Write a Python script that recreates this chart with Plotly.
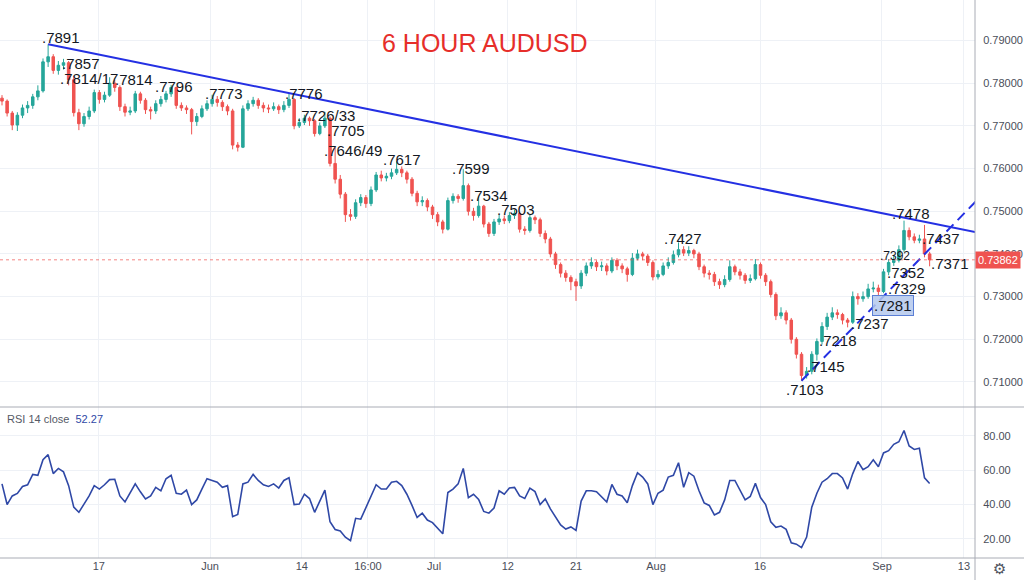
import plotly.graph_objects as go

# ---------------- data ----------------
first_open = 0.7765
closes = [
    0.7758, 0.7730, 0.7702, 0.7725, 0.7742, 0.7748, 0.7768, 0.7782, 0.7850, 0.7862,
    0.7830, 0.7842, 0.7848, 0.7808, 0.7731, 0.7705, 0.7722, 0.7735, 0.7778, 0.7762,
    0.7772, 0.7800, 0.7790, 0.7745, 0.7732, 0.7735, 0.7775, 0.7760, 0.7738, 0.7735,
    0.7752, 0.7762, 0.7775, 0.7790, 0.7748, 0.7742, 0.7738, 0.7710, 0.7722, 0.7740,
    0.7752, 0.7762, 0.7755, 0.7745, 0.7735, 0.7655, 0.7650, 0.7740, 0.7752, 0.7760,
    0.7748, 0.7742, 0.7740, 0.7745, 0.7738, 0.7748, 0.7762, 0.7700, 0.7708, 0.7718,
    0.7712, 0.7682, 0.7700, 0.7718, 0.7612, 0.7575, 0.7540, 0.7492, 0.7488, 0.7520,
    0.7532, 0.7518, 0.7550, 0.7585, 0.7578, 0.7582, 0.7590, 0.7598, 0.7590, 0.7575,
    0.7542, 0.7522, 0.7525, 0.7510, 0.7492, 0.7475, 0.7458, 0.7525, 0.7535, 0.7530,
    0.7560, 0.7500, 0.7490, 0.7512, 0.7470, 0.7448, 0.7475, 0.7482, 0.7478, 0.7490,
    0.7495, 0.7458, 0.7455, 0.7485, 0.7480, 0.7448, 0.7435, 0.7400, 0.7375, 0.7355,
    0.7345, 0.7335, 0.7325, 0.7355, 0.7372, 0.7380, 0.7370, 0.7372, 0.7360, 0.7385,
    0.7372, 0.7365, 0.7352, 0.7390, 0.7400, 0.7395, 0.7380, 0.7346, 0.7352, 0.7372,
    0.7380, 0.7398, 0.7410, 0.7402, 0.7408, 0.7400, 0.7370, 0.7355, 0.7352, 0.7335,
    0.7328, 0.7340, 0.7370, 0.7358, 0.7350, 0.7338, 0.7342, 0.7375, 0.7350, 0.7335,
    0.7305, 0.7255, 0.7262, 0.7245, 0.7200, 0.7165, 0.7115, 0.7125, 0.7165, 0.7195,
    0.7230, 0.7252, 0.7262, 0.7258, 0.7245, 0.7240, 0.7300, 0.7295, 0.7300, 0.7318,
    0.7320, 0.7312, 0.7358, 0.7380, 0.7385, 0.7410, 0.7455, 0.7440, 0.7432, 0.7435,
    0.7400, 0.73862,
]
highs = [
    0.7772, 0.7762, 0.7735, 0.7732, 0.7750, 0.7758, 0.7775, 0.7795, 0.7858, 0.7891,
    0.7868, 0.7852, 0.7857, 0.7852, 0.7817, 0.7740, 0.7730, 0.7745, 0.7785, 0.7784,
    0.7780, 0.7814, 0.7808, 0.7795, 0.7752, 0.7745, 0.7782, 0.7780, 0.7765, 0.7745,
    0.7760, 0.7770, 0.7782, 0.7796, 0.7792, 0.7755, 0.7748, 0.7742, 0.7730, 0.7748,
    0.7760, 0.7773, 0.7770, 0.7760, 0.7750, 0.7740, 0.7662, 0.7748, 0.7760, 0.7768,
    0.7765, 0.7755, 0.7750, 0.7755, 0.7750, 0.7758, 0.7776, 0.7765, 0.7718, 0.7726,
    0.7722, 0.7716, 0.7708, 0.7733, 0.7722, 0.7649, 0.7585, 0.7545, 0.7505, 0.7528,
    0.7540, 0.7538, 0.7558, 0.7592, 0.7595, 0.7590, 0.7600, 0.7617, 0.7605, 0.7595,
    0.7580, 0.7548, 0.7535, 0.7530, 0.7515, 0.7498, 0.7480, 0.7532, 0.7542, 0.7540,
    0.7599, 0.7565, 0.7508, 0.7534, 0.7515, 0.7475, 0.7482, 0.7492, 0.7490, 0.7498,
    0.7503, 0.7498, 0.7465, 0.7492, 0.7490, 0.7485, 0.7455, 0.7440, 0.7405, 0.7380,
    0.7362, 0.7350, 0.7342, 0.7362, 0.7380, 0.7392, 0.7385, 0.7382, 0.7378, 0.7392,
    0.7390, 0.7378, 0.7370, 0.7402, 0.7410, 0.7405, 0.7400, 0.7385, 0.7362, 0.7380,
    0.7392, 0.7408, 0.7427, 0.7418, 0.7418, 0.7412, 0.7405, 0.7375, 0.7362, 0.7358,
    0.7342, 0.7350, 0.7385, 0.7375, 0.7365, 0.7355, 0.7352, 0.7388, 0.7380, 0.7355,
    0.7340, 0.7310, 0.7275, 0.7268, 0.7250, 0.7205, 0.7170, 0.7135, 0.7172, 0.7202,
    0.7240, 0.7262, 0.7275, 0.7270, 0.7262, 0.7250, 0.7312, 0.7308, 0.7312, 0.7330,
    0.7335, 0.7328, 0.7365, 0.7388, 0.7395, 0.7420, 0.7478, 0.7462, 0.7448, 0.7445,
    0.7468, 0.7405,
]
lows = [
    0.7748, 0.7722, 0.7690, 0.7688, 0.7718, 0.7730, 0.7740, 0.7760, 0.7778, 0.7838,
    0.7822, 0.7820, 0.7832, 0.7795, 0.7722, 0.7690, 0.7698, 0.7715, 0.7730, 0.7752,
    0.7755, 0.7768, 0.7780, 0.7735, 0.7722, 0.7725, 0.7730, 0.7752, 0.7728, 0.7715,
    0.7728, 0.7745, 0.7755, 0.7768, 0.7740, 0.7735, 0.7728, 0.7680, 0.7700, 0.7718,
    0.7735, 0.7745, 0.7745, 0.7735, 0.7725, 0.7645, 0.7640, 0.7648, 0.7735, 0.7745,
    0.7740, 0.7732, 0.7730, 0.7735, 0.7728, 0.7732, 0.7742, 0.7692, 0.7695, 0.7702,
    0.7700, 0.7675, 0.7678, 0.7695, 0.7605, 0.7565, 0.7530, 0.7475, 0.7478, 0.7482,
    0.7512, 0.7508, 0.7512, 0.7545, 0.7570, 0.7570, 0.7575, 0.7585, 0.7580, 0.7565,
    0.7535, 0.7512, 0.7512, 0.7500, 0.7482, 0.7465, 0.7448, 0.7455, 0.7518, 0.7520,
    0.7525, 0.7490, 0.7478, 0.7485, 0.7462, 0.7440, 0.7442, 0.7468, 0.7470, 0.7472,
    0.7482, 0.7450, 0.7445, 0.7450, 0.7470, 0.7440, 0.7425, 0.7392, 0.7365, 0.7345,
    0.7335, 0.7315, 0.7290, 0.7318, 0.7348, 0.7365, 0.7360, 0.7360, 0.7350, 0.7355,
    0.7362, 0.7355, 0.7335, 0.7348, 0.7385, 0.7385, 0.7372, 0.7338, 0.7340, 0.7348,
    0.7365, 0.7375, 0.7392, 0.7395, 0.7395, 0.7390, 0.7362, 0.7345, 0.7340, 0.7325,
    0.7318, 0.7322, 0.7335, 0.7350, 0.7340, 0.7330, 0.7332, 0.7338, 0.7342, 0.7325,
    0.7298, 0.7245, 0.7248, 0.7235, 0.7190, 0.7155, 0.7103, 0.7108, 0.7118, 0.7150,
    0.7188, 0.7222, 0.7245, 0.7248, 0.7235, 0.7228, 0.7236, 0.7281, 0.7288, 0.7295,
    0.7310, 0.7302, 0.7308, 0.7350, 0.7372, 0.7380, 0.7405, 0.7432, 0.7425, 0.7425,
    0.7392, 0.7371,
]
rsi = [
    52, 40, 45, 46.5, 50.5, 51.5, 57.5, 57, 66, 69,
    58, 61, 59, 51, 38.5, 35.5, 40.3, 45, 51, 49,
    51.5, 54.5, 54.7, 45, 41.5, 47, 52, 47.4, 43.3, 45,
    50, 48, 55, 57, 46.5, 46, 48.4, 40, 42.7, 49,
    55, 54, 53, 50, 51, 33, 34.3, 52, 53, 57.5,
    54, 51.5, 50.5, 52, 49.6, 54, 55.6, 40, 40.3, 46,
    43.5, 35.5, 42.5, 48.4, 30, 25.5, 24.6, 21, 19, 32,
    31.5, 38.4, 44.5, 51.5, 49, 49, 53, 53.5, 51, 46,
    39.5, 32.5, 35, 31, 29.5, 26.5, 23, 47, 49, 52,
    61, 44, 46, 43, 36, 35, 38, 48, 46, 49.6,
    50, 45, 43.5, 49.5, 47.5, 40, 43.3, 37.5, 33, 28.2,
    25.8, 27, 25, 42, 48, 48, 47.5, 44.7, 41.5, 51.7,
    46, 45, 41, 51, 58.5, 56, 52, 40, 46.6, 48.4,
    56, 57, 64.3, 50, 58.5, 56.5, 48, 41, 39.5, 34,
    35.5, 42.7, 54, 54, 48, 42.7, 44.7, 52.3, 44.1, 40,
    30, 26.8, 27.5, 25.6, 17.8, 17, 15, 21.1, 38.5, 46.6,
    53, 55, 58, 58, 55.5, 49, 58, 65, 60.3, 62,
    66, 62, 70, 71.3, 75, 76.5, 83, 74, 72, 72.7,
    55.5, 52.27,
]
rsi_last = 52.27
last_price = 0.73862

date_labels = ["17", "Jun", "14", "16:00", "Jul", "12", "21", "Aug", "16", "Sep", "13"]
date_bars = [18.9, 40.6, 58.5, 71.4, 84.3, 98.7, 112.0, 127.6, 147.9, 171.7, 187.7]
price_ticks = [0.71, 0.72, 0.73, 0.74, 0.75, 0.76, 0.77, 0.78, 0.79]
rsi_ticks = [20, 40, 60, 80]

trend_bars = [9, 190]
trend_prices = [0.7891, 0.7451]
channel_bars = [156, 190]
channel_prices = [0.7103, 0.7523]

level_labels = [".7891", ".7857", ".7814/17", ".7814", ".7796", ".7773", ".7776",
                ".7726/33", ".7705", ".7646/49", ".7617", ".7599", ".7534", ".7503",
                ".7427", ".7478", ".7437", ".7392", ".7371", ".7352", ".7329",
                ".7281", ".7237", ".7218", ".7145", ".7103"]
title_text = "6 HOUR AUDUSD"

# ---------------- layout helpers (positions / styles) ----------------
label_pos = [(11.5, 0.79082), (15.4, 0.78473), (17.0, 0.78121), (25.7, 0.78098),
             (33.6, 0.77934), (43.3, 0.77747), (58.9, 0.77747), (63.2, 0.77232),
             (67.1, 0.76903), (68.5, 0.76434), (78.0, 0.76224), (91.5, 0.76013),
             (95.0, 0.75380), (100.3, 0.75052), (132.9, 0.74373), (177.4, 0.74958),
             (183.2, 0.74373), (174.2, 0.73951), (185.0, 0.73787), (176.4, 0.73576),
             (176.6, 0.73201), (173.9, 0.72803), (169.4, 0.72381), (163.1, 0.71983),
             (160.8, 0.71374), (156.7, 0.70835)]

bars = list(range(len(closes)))
opens = [first_open] + closes[:-1]

GRID = "#eef1f6"
SEP = "#a9acb5"
TICKC = "#4a4e59"
FONT = "Liberation Sans"
PANE_SPLIT = 1 - 407 / 558

fig = go.Figure()
fig.add_trace(go.Candlestick(
    x=bars, open=opens, high=highs, low=lows, close=closes,
    increasing=dict(line=dict(color="#26a69a", width=1), fillcolor="#26a69a"),
    decreasing=dict(line=dict(color="#ef5350", width=1), fillcolor="#ef5350"),
    whiskerwidth=0, hoverinfo="skip", xaxis="x", yaxis="y", showlegend=False,
))
fig.add_trace(go.Scatter(x=trend_bars, y=trend_prices, mode="lines",
                         line=dict(color="#2430e3", width=2), xaxis="x", yaxis="y",
                         hoverinfo="skip", showlegend=False))
fig.add_trace(go.Scatter(x=channel_bars, y=channel_prices, mode="lines",
                         line=dict(color="#2430e3", width=2, dash="10px,6px"),
                         xaxis="x", yaxis="y", hoverinfo="skip", showlegend=False))
fig.add_trace(go.Scatter(x=bars, y=rsi, mode="lines",
                         line=dict(color="#2f48a6", width=1.6), xaxis="x2", yaxis="y2",
                         hoverinfo="skip", showlegend=False))

annotations = []
for txt, (bx, py) in zip(level_labels, label_pos):
    a = dict(x=bx, y=py, xref="x", yref="y", text=txt, showarrow=False,
             xanchor="center", yanchor="middle",
             font=dict(family=FONT, size=15 if txt != ".7392" else 12, color="#131722"))
    if txt == ".7281":
        a.update(bgcolor="rgba(180,200,236,0.85)", bordercolor="#5b7fd6",
                 borderwidth=1, borderpad=1)
    annotations.append(a)

annotations.append(dict(x=485 / 975, y=1 - 43 / 558, xref="paper", yref="paper",
                        text=title_text, showarrow=False, xanchor="center", yanchor="middle",
                        font=dict(family=FONT, size=25, color="#e62e2a")))
annotations.append(dict(x=5 / 975, y=1 - 419 / 558, xref="paper", yref="paper",
                        text="RSI 14 close&nbsp;&nbsp;<span style='color:#2f48a6'>%.2f</span>" % rsi_last,
                        showarrow=False, xanchor="left", yanchor="middle",
                        font=dict(family=FONT, size=11, color="#555a66")))
annotations.append(dict(x=1, y=last_price, xref="paper", yref="y",
                        text="%.5f" % last_price, showarrow=False, xanchor="left",
                        yanchor="middle", bgcolor="#ef5350", borderpad=2,
                        font=dict(family=FONT, size=11, color="white")))
annotations.append(dict(x=999 / 975, y=-(569 - 558) / 558, xref="paper", yref="paper",
                        text="⚙", showarrow=False, xanchor="center", yanchor="middle",
                        font=dict(family="DejaVu Sans", size=15, color="#50535e")))

shapes = [
    dict(type="line", xref="paper", yref="y", x0=0, x1=1, y0=last_price, y1=last_price,
         line=dict(color="rgba(239,83,80,0.7)", width=1, dash="dot")),
    dict(type="line", xref="paper", yref="paper", x0=0, x1=1024 / 975,
         y0=PANE_SPLIT, y1=PANE_SPLIT, line=dict(color=SEP, width=1)),
    dict(type="line", xref="paper", yref="paper", x0=0, x1=1024 / 975,
         y0=0, y1=0, line=dict(color=SEP, width=1)),
    dict(type="line", xref="paper", yref="paper", x0=1, x1=1,
         y0=-22 / 558, y1=1, line=dict(color=SEP, width=1)),
]

fig.update_layout(
    width=1024, height=580,
    margin=dict(l=0, r=49, t=0, b=22),
    paper_bgcolor="white", plot_bgcolor="white",
    font=dict(family=FONT, size=11, color=TICKC),
    showlegend=False,
    xaxis=dict(domain=[0, 1], range=[-0.39, 189.85], anchor="y", tickvals=date_bars,
               showticklabels=False, showgrid=True, gridcolor=GRID, zeroline=False,
               showline=False, ticks="", rangeslider=dict(visible=False), fixedrange=True),
    xaxis2=dict(domain=[0, 1], matches="x", anchor="y2", tickvals=date_bars,
                ticktext=date_labels, showgrid=True, gridcolor=GRID, zeroline=False,
                showline=False, ticks="",
                tickfont=dict(family=FONT, size=11, color=TICKC)),
    yaxis=dict(domain=[PANE_SPLIT, 1], range=[0.70414, 0.79949], side="right",
               anchor="x", tickvals=price_ticks, tickformat=".5f", showgrid=True,
               gridcolor=GRID, zeroline=False, showline=False, ticks="outside",
               ticklen=5, tickcolor="rgba(0,0,0,0)",
               tickfont=dict(family=FONT, size=11, color=TICKC)),
    yaxis2=dict(domain=[0, PANE_SPLIT], range=[8.96, 96.67], side="right",
                anchor="x2", tickvals=rsi_ticks, tickformat=".2f", showgrid=True,
                gridcolor=GRID, zeroline=False, showline=False, ticks="outside",
                ticklen=5, tickcolor="rgba(0,0,0,0)",
                tickfont=dict(family=FONT, size=11, color=TICKC)),
    annotations=annotations,
    shapes=shapes,
)

fig.write_html("out.html", config={"displayModeBar": False},
               post_script="document.body.style.margin='0';document.body.style.overflow='hidden';")
